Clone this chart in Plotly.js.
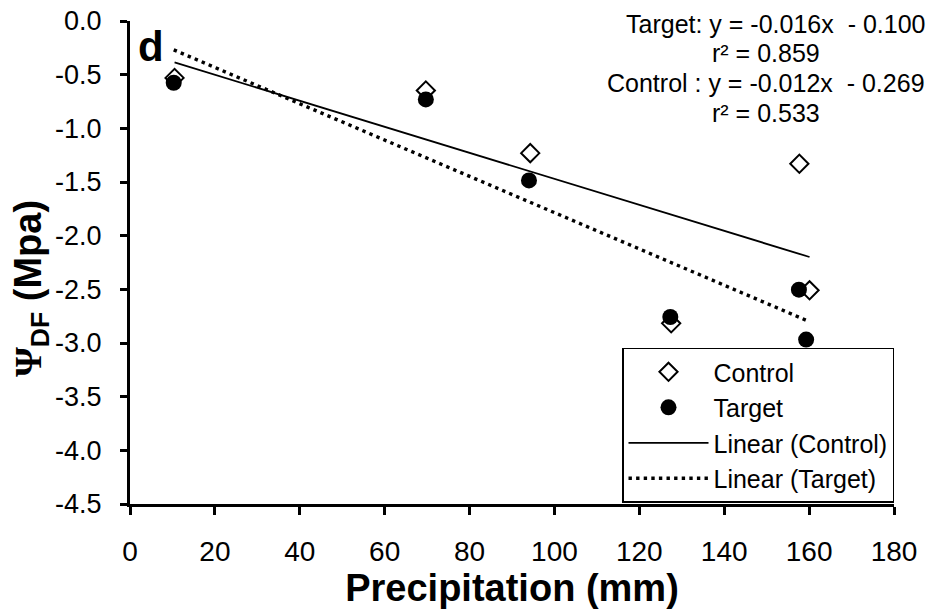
<!DOCTYPE html>
<html>
<head>
<meta charset="utf-8">
<script src="https://cdn.plot.ly/plotly-3.0.1.min.js"></script>
<style>html,body{margin:0;padding:0;background:#fff;}#chart{width:935px;height:614px;}</style>
</head>
<body>
<div id="chart"></div>
<script>
// Data
const controlX = [10.5, 69.7, 94.3, 127.5, 157.7, 160.1];
const controlY = [-0.53, -0.647, -1.231, -2.817, -1.33, -2.509];
const targetX = [10.3, 69.7, 94.0, 127.3, 157.6, 159.3];
const targetY = [-0.575, -0.731, -1.485, -2.758, -2.503, -2.968];
const xTicks = [0, 20, 40, 60, 80, 100, 120, 140, 160, 180];
const yTicks = [0, -0.5, -1, -1.5, -2, -2.5, -3, -3.5, -4, -4.5];
const eqLines = ["Target: y = -0.016x  - 0.100", "r² = 0.859", "Control : y = -0.012x  - 0.269", "r² = 0.533"];
const panelLabel = "d";
const xTitle = "Precipitation (mm)";
const yTitle = "<span style='font-family:Liberation Serif'>Ψ</span><sub>DF</sub> (Mpa)";

function linfit(xs, ys) {
  const n = xs.length;
  const mx = xs.reduce((a, b) => a + b, 0) / n;
  const my = ys.reduce((a, b) => a + b, 0) / n;
  let sxy = 0, sxx = 0;
  for (let i = 0; i < n; i++) { sxy += (xs[i] - mx) * (ys[i] - my); sxx += (xs[i] - mx) ** 2; }
  const m = sxy / sxx, b = my - m * mx;
  const x0 = Math.min(...xs), x1 = Math.max(...xs);
  return {x: [x0, x1], y: [m * x0 + b, m * x1 + b]};
}
const cFit = linfit(controlX, controlY);
const tFit = linfit(targetX, targetY);

const FONT = "Liberation Sans, Arial, sans-serif";

const traces = [
  {x: controlX, y: controlY, mode: 'markers', name: 'Control', legendgroup: 'a',
   marker: {symbol: 'diamond-open', size: 14, color: '#000', line: {width: 2, color: '#000'}}},
  {x: targetX, y: targetY, mode: 'markers', name: 'Target', legendgroup: 'b',
   marker: {symbol: 'circle', size: 16, color: '#000'}},
  {x: cFit.x, y: cFit.y, mode: 'lines', name: 'Linear (Control)', legendgroup: 'c',
   line: {color: '#000', width: 1.8}},
  {x: tFit.x, y: tFit.y, mode: 'lines', name: 'Linear (Target)', legendgroup: 'd',
   line: {color: '#000', width: 3.4, dash: '3.4px,4.2px'}}
];

const eqY = [0.9948, 0.9328, 0.8707, 0.8087];
const eqX = [1.043, 0.8326, 1.043, 0.8326];
const eqAnchor = ['right', 'center', 'right', 'center'];
const annotations = eqLines.map((t, i) => ({
  text: t, xref: 'paper', yref: 'paper', x: eqX[i], y: eqY[i], xanchor: eqAnchor[i], yanchor: 'middle',
  showarrow: false, font: {family: FONT, size: 25, color: '#000'}
}));
annotations.push({text: '<b>' + panelLabel + '</b>', xref: 'paper', yref: 'paper', x: 0.0281, y: 0.947,
  xanchor: 'center', yanchor: 'middle', showarrow: false, font: {family: FONT, size: 42, color: '#000'}});
annotations.push({text: '<b>' + yTitle + '</b>', xref: 'paper', yref: 'paper', x: -0.1288, y: 0.4467,
  xanchor: 'center', yanchor: 'middle', textangle: -90, showarrow: false,
  font: {family: FONT, size: 38, color: '#000'}});

const layout = {
  width: 935, height: 614,
  margin: {l: 129.5, r: 41, t: 20.5, b: 110},
  paper_bgcolor: '#fff', plot_bgcolor: '#fff',
  showlegend: true,
  legend: {x: 1, xanchor: 'right', y: 0.003, yanchor: 'bottom', bordercolor: '#000', borderwidth: 1.5,
    bgcolor: '#fff', font: {family: FONT, size: 25, color: '#000'}, tracegroupgap: 0, itemwidth: 80},
  xaxis: {range: [0, 180], tickvals: xTicks, ticktext: xTicks.map(String), showgrid: false, zeroline: false,
    showline: true, linecolor: '#000', linewidth: 3, ticks: 'outside', ticklen: 8, tickwidth: 3, tickcolor: '#000',
    ticklabelstandoff: 12,
    tickfont: {family: FONT, size: 28, color: '#000'},
    title: {text: '<b>' + xTitle + '</b>', font: {family: FONT, size: 38, color: '#000'}, standoff: 4}},
  yaxis: {range: [-4.5, 0], tickvals: yTicks, ticktext: yTicks.map(v => v.toFixed(1)), showgrid: false, zeroline: false,
    showline: true, linecolor: '#000', linewidth: 3, ticks: 'outside', ticklen: 7, tickwidth: 3, tickcolor: '#000',
    ticklabelstandoff: 13,
    tickfont: {family: FONT, size: 27, color: '#000'}},
  annotations: annotations
};

Plotly.newPlot('chart', traces, layout, {displayModeBar: false, staticPlot: true});
</script>
</body>
</html>
